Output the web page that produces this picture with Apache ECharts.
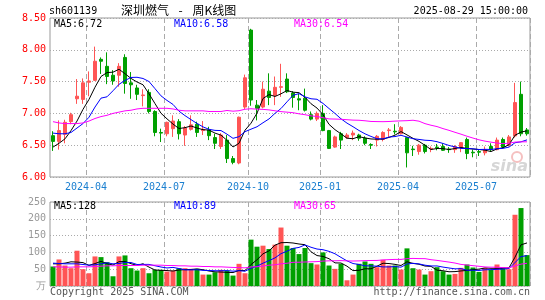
<!DOCTYPE html>
<html><head><meta charset="utf-8">
<script src="https://cdn.jsdelivr.net/npm/echarts@6/dist/echarts.min.js"></script>
<style>html,body{margin:0;padding:0;background:#fff}#c{width:545px;height:300px}</style>
</head><body><div id="c"></div>
<script>
const dates = ['2024-02-23','2024-03-01','2024-03-08','2024-03-15','2024-03-22','2024-03-29','2024-04-03','2024-04-12','2024-04-19','2024-04-26',
'2024-04-30','2024-05-10','2024-05-17','2024-05-24','2024-05-31','2024-06-07','2024-06-14','2024-06-21','2024-06-28','2024-07-05',
'2024-07-12','2024-07-19','2024-07-26','2024-08-02','2024-08-09','2024-08-16','2024-08-23','2024-08-30','2024-09-06','2024-09-13',
'2024-09-20','2024-09-27','2024-09-30','2024-10-11','2024-10-18','2024-10-25','2024-11-01','2024-11-08','2024-11-15','2024-11-22',
'2024-11-29','2024-12-06','2024-12-13','2024-12-20','2024-12-27','2025-01-03','2025-01-10','2025-01-17','2025-01-24','2025-01-27',
'2025-02-07','2025-02-14','2025-02-21','2025-02-28','2025-03-07','2025-03-14','2025-03-21','2025-03-28','2025-04-03','2025-04-11',
'2025-04-18','2025-04-25','2025-04-30','2025-05-09','2025-05-16','2025-05-23','2025-05-30','2025-06-06','2025-06-13','2025-06-20',
'2025-06-27','2025-07-04','2025-07-11','2025-07-18','2025-07-25','2025-08-01','2025-08-08','2025-08-15','2025-08-22','2025-08-29'];

const opens = [6.65,6.56,6.67,6.87,7.23,7.22,7.49,7.52,7.85,7.74, 7.60,7.60,7.88,7.48,7.40,7.28,7.33,7.03,6.70,6.68,
 6.76,6.87,6.66,6.75,6.83,6.73,6.74,6.62,6.48,6.58, 6.29,6.22,7.10,8.31,7.13,7.10,7.35,7.28,7.41,7.54,
 7.32,7.23,7.24,6.98,6.91,7.00,6.73,6.47,6.68,6.62, 6.66,6.66,6.61,6.51,6.58,6.59,6.73,6.72,6.68,6.62,
 6.44,6.40,6.50,6.44,6.47,6.48,6.44,6.43,6.47,6.59, 6.39,6.40,6.38,6.48,6.43,6.59,6.50,6.645,7.30,6.74];
const closes = [6.56,6.73,6.86,6.98,7.27,7.48,7.51,7.82,7.82,7.58, 7.51,7.74,7.47,7.45,7.30,7.29,7.03,6.70,6.69,6.86,
 6.88,6.68,6.77,6.82,6.70,6.75,6.65,6.53,6.66,6.29, 6.23,6.94,7.56,7.21,7.08,7.38,7.25,7.41,7.42,7.34,
 7.25,7.21,7.05,6.91,7.00,6.73,6.45,6.63,6.58,6.66, 6.69,6.61,6.53,6.50,6.64,6.70,6.74,6.71,6.78,6.38,
 6.43,6.50,6.40,6.45,6.46,6.42,6.43,6.48,6.54,6.37, 6.38,6.39,6.43,6.43,6.58,6.47,6.63,7.17,6.68,6.68];
const lows = [6.41,6.43,6.53,6.83,7.15,7.15,7.27,7.51,7.62,7.46, 7.45,7.42,7.31,7.23,7.21,7.11,7.00,6.64,6.55,6.64,
 6.63,6.59,6.49,6.73,6.63,6.66,6.58,6.44,6.44,6.22, 6.20,6.20,7.07,7.12,6.89,7.08,7.13,7.13,7.26,7.32,
 7.09,7.05,7.03,6.89,6.88,6.72,6.44,6.46,6.44,6.60, 6.58,6.57,6.50,6.44,6.48,6.56,6.63,6.67,6.67,6.15,
 6.33,6.35,6.37,6.39,6.42,6.41,6.38,6.38,6.39,6.28, 6.31,6.33,6.34,6.40,6.42,6.45,6.48,6.62,6.64,6.65];
const highs = [6.72,6.89,6.90,7.01,7.54,7.55,7.66,8.05,7.88,7.96, 7.68,7.79,7.93,7.65,7.45,7.38,7.38,7.05,6.76,6.87,
 6.97,6.91,6.80,6.97,6.87,6.88,6.79,6.68,6.69,6.66, 6.33,6.95,7.61,8.33,7.21,7.50,7.63,7.58,7.78,7.63,
 7.35,7.31,7.39,7.03,7.03,7.13,6.74,6.65,6.71,6.69, 6.73,6.68,6.64,6.53,6.66,6.72,6.77,6.83,6.80,6.63,
 6.49,6.52,6.52,6.48,6.52,6.53,6.47,6.50,6.55,6.62, 6.43,6.43,6.48,6.53,6.62,6.62,6.66,7.48,7.50,6.77];
const volumes = [58,79,61,53,105,50,38,88,86,71, 29,88,91,53,46,53,38,48,48,43,
 46,53,53,51,51,34,34,41,48,46, 31,66,38,138,117,120,110,123,174,120,
 113,95,113,68,64,100,61,51,66,17, 34,66,73,66,56,78,61,61,49,112,
 53,49,34,44,56,44,34,36,54,64, 55,42,54,48,64,55,50,212,232,92];

// moving-average values for weeks whose look-back starts before the window
const ma5Head = [6.47,6.53,6.60,6.73];
const ma10Head = [6.69,6.68,6.68,6.70,6.77,6.84,6.94,7.10,7.24];
const ma30Head = [6.87,6.85,6.84,6.84,6.84,6.85,6.88,6.92,6.95,6.97,7.00,7.02,7.04,7.05,7.07,7.08,7.08,7.08,7.08,7.08,7.07,7.05,7.04,7.04,7.04,7.04,7.03,7.03,7.03];
const volMa5Head = [66,66,68,72];
const volMa10Head = [68,67,66,66,66,64,62,63,66];
const volMa30Head = [57,57,56,56,57,57,57,58,59,60,60,61,61,61,61,62,62,62,62,61,61,60,60,59,59,58,58,57,57];

const priceTicks = [6.0,6.5,7.0,7.5,8.0,8.5];
const volTicks = [0,50,100,150,200,250];
const quarterStarts = ['2024-04-03','2024-07-05','2024-10-11','2025-01-03','2025-04-03','2025-07-04'];

const headerTexts = {code:'sh601139', name:'深圳燃气', dash:'-', kind:'周K线图', time:'2025-08-29 15:00:00'};
const priceLegend = ['MA5:6.72','MA10:6.58','MA30:6.54'];
const volLegend = ['MA5:128','MA10:89','MA30:65'];

function ma(vals, n, head){
  return vals.map((v,i)=>{
    if(i < n-1) return head[i];
    let s=0; for(let k=i-n+1;k<=i;k++) s+=vals[k];
    return +(s/n).toFixed(4);
  });
}

const RED='#ff5555', GREEN='#00a000';
const MONO='DejaVu Sans Mono';
const CJK='"Noto Sans CJK SC"';
const isQ = (i)=> quarterStarts.indexOf(dates[i])>=0;

const kData = dates.map((d,i)=>[opens[i],closes[i],lows[i],highs[i]]);
const vData = volumes.map((v,i)=>({value:v,itemStyle:{color: closes[i]>=opens[i]?RED:GREEN}}));

const chart = echarts.init(document.getElementById('c'));
const lineS = (name, data, color, xi)=>({name,type:'line',data,xAxisIndex:xi,yAxisIndex:xi,symbol:'none',
  lineStyle:{color,width:1},itemStyle:{color},silent:true,animation:false,z:5});

const legColors=['#000000','#0000ff','#ff00ff'];
const legX=[54,174,294];
const graphics=[
  {type:'text',x:49,y:11,style:{text:headerTexts.code,font:'10px '+MONO,fill:'#000',verticalAlign:'middle'}},
  {type:'text',x:121,y:10.5,style:{text:headerTexts.name,font:'12px '+CJK,fill:'#000',verticalAlign:'middle'}},
  {type:'text',x:180.5,y:10.5,style:{text:headerTexts.dash,font:'12px '+CJK,fill:'#000',align:'center',verticalAlign:'middle'}},
  {type:'text',x:192.5,y:10.5,style:{text:headerTexts.kind,font:'12px '+CJK,fill:'#000',verticalAlign:'middle'}},
  {type:'text',x:528,y:11,style:{text:headerTexts.time,font:'10px '+MONO,fill:'#000',align:'right',verticalAlign:'middle'}},
  {type:'text',x:50,y:292.5,style:{text:'Copyright 2025 SINA.COM',font:'10px '+MONO,fill:'#555',verticalAlign:'middle'}},
  {type:'text',x:530,y:292.5,style:{text:'http://finance.sina.com.cn',font:'10px '+MONO,fill:'#555',align:'right',verticalAlign:'middle'}},
  {type:'circle',shape:{cx:517,cy:157,r:5},style:{fill:'none',stroke:'#f5c0c0',lineWidth:2},z:1},
  {type:'text',x:528,y:167,style:{text:'sina',font:'italic bold 16px "DejaVu Sans"',fill:'#d6d6d6',align:'right',verticalAlign:'middle'},z:1}
];
priceLegend.forEach((t,i)=>graphics.push({type:'text',x:legX[i],y:24.5,style:{text:t,font:'10px '+MONO,fill:legColors[i],verticalAlign:'middle'},z:10}));
volLegend.forEach((t,i)=>graphics.push({type:'text',x:legX[i],y:206.5,style:{text:t,font:'10px '+MONO,fill:legColors[i],verticalAlign:'middle'},z:10}));

const xBase = (gi, showLabel)=>({type:'category',gridIndex:gi,data:dates,boundaryGap:true,
  axisLine:{show:false},axisTick:{show:false},
  axisLabel:{show:showLabel,interval:(i)=>isQ(i),formatter:(v)=>v.slice(0,7),color:'#1a7fd0',
    fontFamily:MONO,fontSize:10,margin:5,padding:[0,6,0,0]},
  splitLine:{show:true,interval:(i)=>isQ(i),lineStyle:{color:'#aaaaaa',type:[5,3],width:1}}});

chart.setOption({
  animation:false,
  backgroundColor:'#ffffff',
  grid:[
    {left:50,top:18,width:480,height:159,show:true,borderColor:'#999999',borderWidth:1,backgroundColor:'transparent'},
    {left:50,top:202,width:480,height:84,show:true,borderColor:'#999999',borderWidth:1,backgroundColor:'transparent'}
  ],
  xAxis:[xBase(0,true), xBase(1,false)],
  yAxis:[
    {type:'value',gridIndex:0,min:priceTicks[0],max:priceTicks[priceTicks.length-1],interval:0.5,
      axisLine:{show:false},axisTick:{show:false},
      axisLabel:{color:'#ff0000',fontFamily:MONO,fontSize:10,margin:4,formatter:(v)=>v.toFixed(2)},
      splitLine:{show:true,lineStyle:{color:'#aaaaaa',type:[1,2],width:1}}},
    {type:'value',gridIndex:1,min:volTicks[0],max:volTicks[volTicks.length-1],interval:50,
      axisLine:{show:false},axisTick:{show:false},
      axisLabel:{color:'#999999',fontFamily:MONO,fontSize:10,margin:4,formatter:(v)=>v===0?'万':String(v)},
      splitLine:{show:true,lineStyle:{color:'#aaaaaa',type:[1,2],width:1}}}
  ],
  graphic:graphics,
  series:[
    {type:'candlestick',xAxisIndex:0,yAxisIndex:0,data:kData,barWidth:4,silent:true,z:3,
      itemStyle:{color:RED,color0:GREEN,borderColor:RED,borderColor0:GREEN,borderWidth:1}},
    lineS('MA5',ma(closes,5,ma5Head),'#000000',0),
    lineS('MA10',ma(closes,10,ma10Head),'#0000ff',0),
    lineS('MA30',ma(closes,30,ma30Head),'#ff00ff',0),
    {type:'bar',xAxisIndex:1,yAxisIndex:1,data:vData,barWidth:5,silent:true,z:3},
    lineS('VMA5',ma(volumes,5,volMa5Head),'#000000',1),
    lineS('VMA10',ma(volumes,10,volMa10Head),'#0000ff',1),
    lineS('VMA30',ma(volumes,30,volMa30Head),'#ff00ff',1)
  ]
});
</script></body></html>
